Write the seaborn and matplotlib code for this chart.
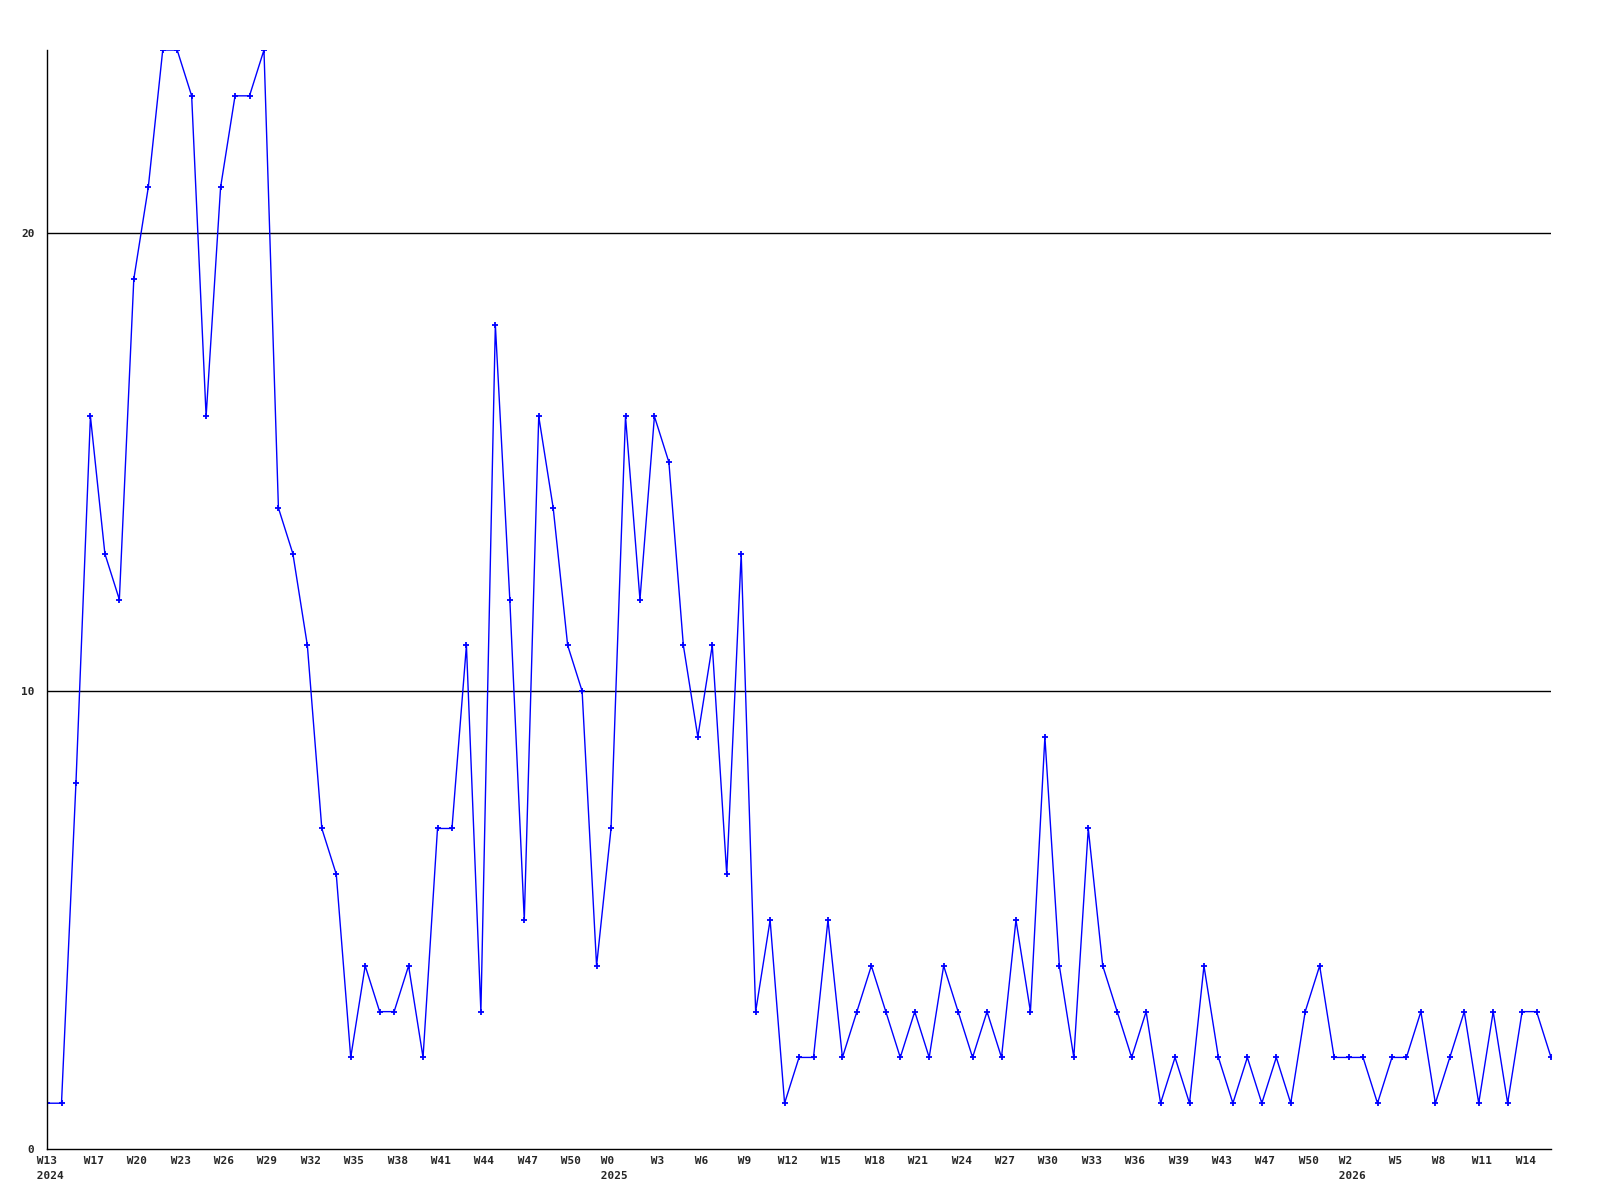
import matplotlib
matplotlib.use('Agg')
import matplotlib.pyplot as plt
import seaborn as sns
import pandas as pd

# weekly counts
counts = [1, 1, 8, 16, 13, 12, 19, 21, 24, 24, 23, 16, 21, 23, 23, 24, 14, 13, 11, 7,
          6, 2, 4, 3, 3, 4, 2, 7, 7, 11, 3, 18, 12, 5, 16, 14, 11, 10, 4, 7,
          16, 12, 16, 15, 11, 9, 11, 6, 13, 3, 5, 1, 2, 2, 5, 2, 3, 4, 3, 2,
          3, 2, 4, 3, 2, 3, 2, 5, 3, 9, 4, 2, 7, 4, 3, 2, 3, 1, 2, 1,
          4, 2, 1, 2, 1, 2, 1, 3, 4, 2, 2, 2, 1, 2, 2, 3, 1, 2, 3, 1,
          3, 1, 3, 3, 2]

week_labels = ['W13', 'W17', 'W20', 'W23', 'W26', 'W29', 'W32', 'W35', 'W38', 'W41',
               'W44', 'W47', 'W50', 'W0', 'W3', 'W6', 'W9', 'W12', 'W15', 'W18',
               'W21', 'W24', 'W27', 'W30', 'W33', 'W36', 'W39', 'W43', 'W47', 'W50',
               'W2', 'W5', 'W8', 'W11', 'W14']
year_marks = {0: '2024', 13: '2025', 30: '2026'}
y_ticks = [0, 10, 20]

df = pd.DataFrame({'week': range(len(counts)), 'count': counts})

sns.set_style('white')
plt.rcParams['font.family'] = ['DejaVu Sans Mono']

fig = plt.figure(figsize=(16, 12), dpi=100)
ax = fig.add_axes([0.0294, 0.0425, 0.9400, 0.9158])

sns.lineplot(x='week', y='count', data=df, ax=ax, color='#0000ff', linewidth=1.0,
             marker='+', markersize=5, markeredgewidth=1.3, markeredgecolor='#0000ff')

# horizontal reference lines
for v in y_ticks[1:]:
    ax.axhline(v, color='black', linewidth=1.0, zorder=0)

ax.set_xlim(0, len(counts) - 1)
ax.set_ylim(0, 24)

tick_pos = list(range(0, len(counts), 3))[:len(week_labels)]
# leading space nudges the left-aligned block a little to the right, like the original
labels = [' ' + lab + ('\n ' + year_marks[i] if i in year_marks else '') for i, lab in enumerate(week_labels)]
ax.set_xticks(tick_pos)
ax.set_xticklabels(labels, fontsize=8, fontweight='bold', linespacing=1.6)
for t in ax.get_xticklabels():
    t.set_multialignment('left')
ax.set_yticks(y_ticks)
ax.set_yticklabels([str(v) for v in y_ticks], fontsize=8, fontweight='bold')
ax.tick_params(axis='x', length=0, pad=5)
ax.tick_params(axis='y', length=0, pad=9)

ax.set_xlabel('')
ax.set_ylabel('')
for side in ['top', 'right']:
    ax.spines[side].set_visible(False)
for side in ['left', 'bottom']:
    ax.spines[side].set_color('black')
    ax.spines[side].set_linewidth(1.0)

fig.savefig('out.png', dpi=100, facecolor='white')
